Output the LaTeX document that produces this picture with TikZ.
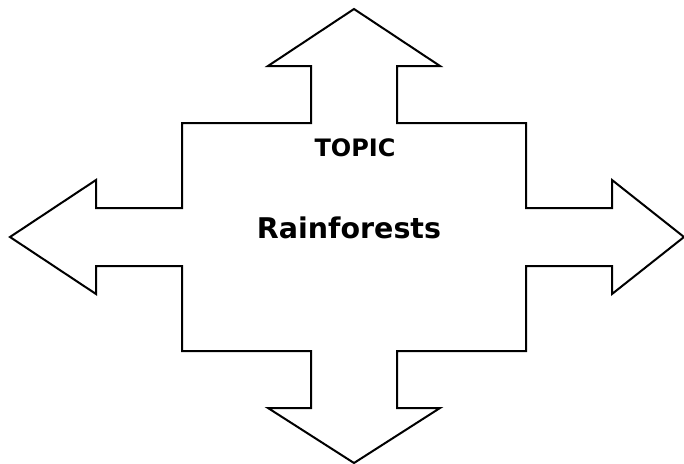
\documentclass[tikz,border=0pt]{standalone}
\usepackage{fontspec}
\setmainfont{DejaVu Sans}
\begin{document}
\begin{tikzpicture}[x=1pt,y=-1pt,
  outline/.style={draw=black,line width=2pt,line join=miter},
  label/.style={text=black,inner sep=0pt}]
\useasboundingbox (0,0) rectangle (684,463);
\draw[outline] (354,9) -- (440,66) -- (397,66) -- (397,123) -- (526,123) -- (526,208)
  -- (612,208) -- (612,180) -- (684,237) -- (612,294) -- (612,266) -- (526,266)
  -- (526,351) -- (397,351) -- (397,408) -- (440,408) -- (354,463) -- (268,408)
  -- (311,408) -- (311,351) -- (182,351) -- (182,266) -- (96,266) -- (96,294)
  -- (10,237) -- (96,180) -- (96,208) -- (182,208) -- (182,123) -- (311,123)
  -- (311,66) -- (268,66) -- cycle;
\node[label,font=\bfseries\fontsize{24}{27}\selectfont] (topic) at (355,148) {TOPIC};
\node[label,font=\bfseries\fontsize{28.5}{32}\selectfont] (rain) at (349,228) {Rainforests};
\end{tikzpicture}
\end{document}
